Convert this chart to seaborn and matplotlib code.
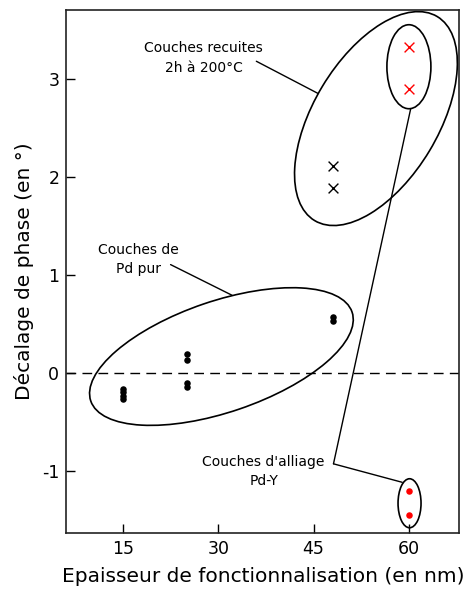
import numpy as np
import pandas as pd
import seaborn as sns
import matplotlib.pyplot as plt
from matplotlib.patches import Ellipse
from matplotlib.transforms import ScaledTranslation

# couches de Pd pur (points noirs)
pd_x = [15, 15, 15, 15, 25, 25, 25, 25, 48, 48]
pd_y = [-0.17, -0.20, -0.24, -0.27, 0.19, 0.13, -0.10, -0.145, 0.57, 0.53]

# couches recuites 2h a 200 C (croix)
recuit_pd_x = [48, 48]
recuit_pd_y = [2.11, 1.89]
recuit_alliage_x = [60, 60]
recuit_alliage_y = [3.33, 2.90]

# couches d'alliage Pd-Y (points rouges)
alliage_x = [60, 60]
alliage_y = [-1.21, -1.45]

xticks = [15, 30, 45, 60]
yticks = [-1, 0, 1, 2, 3]

sns.set_theme(style='ticks')
plt.rcParams['font.family'] = ['DejaVu Sans']
plt.rcParams['axes.unicode_minus'] = False
plt.rcParams['text.color'] = 'black'
plt.rcParams['axes.labelcolor'] = 'black'

fig = plt.figure(figsize=(4.67, 5.92), dpi=100)
ax = fig.add_axes([0.142, 0.0992, 0.8415, 0.8839])

dfPd = pd.DataFrame({'x': pd_x, 'y': pd_y})
dfRec1 = pd.DataFrame({'x': recuit_pd_x, 'y': recuit_pd_y})
dfRec2 = pd.DataFrame({'x': recuit_alliage_x, 'y': recuit_alliage_y})
dfAl = pd.DataFrame({'x': alliage_x, 'y': alliage_y})

sns.scatterplot(ax=ax, data=dfPd, x='x', y='y', color='black', s=22, linewidth=0, zorder=3)
sns.scatterplot(ax=ax, data=dfRec1, x='x', y='y', color='black', marker='x', s=50, linewidth=1.0, zorder=3)
sns.scatterplot(ax=ax, data=dfRec2, x='x', y='y', color='red', marker='x', s=50, linewidth=1.0, zorder=3)
sns.scatterplot(ax=ax, data=dfAl, x='x', y='y', color='red', s=22, linewidth=0, zorder=3)

ax.axhline(0, color='black', lw=1.0, dashes=(7, 4.5), zorder=1)

ax.set_xlim(6, 68)
ax.set_ylim(-1.64, 3.71)
ax.set_xticks(xticks)
ax.set_yticks(yticks)
ax.tick_params(direction='in', length=6.5, width=1, labelsize=12.5, pad=5,
               top=False, right=False, colors='black')
for sp in ax.spines.values():
    sp.set_linewidth(1.2)
    sp.set_color('#222222')
ax.set_xlabel('Epaisseur de fonctionnalisation (en nm)', fontsize=14.5, labelpad=6)
ax.set_ylabel('Décalage de phase (en °)', fontsize=14.5, labelpad=6)


def ellipse(cx, cy, w, h, angle):
    # largeur / hauteur en pouces, centre en coordonnees donnees
    tr = fig.dpi_scale_trans + ScaledTranslation(cx, cy, ax.transData)
    e = Ellipse((0, 0), w, h, angle=angle, transform=tr, fill=False,
                edgecolor='black', lw=1.2, zorder=2)
    ax.add_patch(e)


ellipse(54.85, 2.60, 2.38, 1.25, 59)
ellipse(60.05, 3.13, 0.44, 0.84, 0)
ellipse(30.47, 0.167, 2.76, 1.11, 18.8)
ellipse(60.15, -1.333, 0.23, 0.49, 0)

txt = dict(fontsize=10, ha='center', va='center', multialignment='center', linespacing=1.5)
ax.text(27.69, 3.22, 'Couches recuites\n2h à 200°C', **txt)
ax.text(17.33, 1.16, 'Couches de\nPd pur', **txt)
ax.text(37.13, -1.01, "Couches d'alliage\nPd-Y", **txt)

line = dict(arrowstyle='-', color='black', lw=1.0, shrinkA=0, shrinkB=0)
ax.annotate('', xy=(45.74, 2.856), xytext=(35.98, 3.186), arrowprops=line)
ax.annotate('', xy=(32.16, 0.793), xytext=(22.45, 1.107), arrowprops=line)
ax.annotate('', xy=(59.0, -1.119), xytext=(48.15, -0.930), arrowprops=line)
ax.annotate('', xy=(60.33, 2.70), xytext=(48.15, -0.930), arrowprops=line)

plt.savefig('out.png', dpi=100)
plt.close()
